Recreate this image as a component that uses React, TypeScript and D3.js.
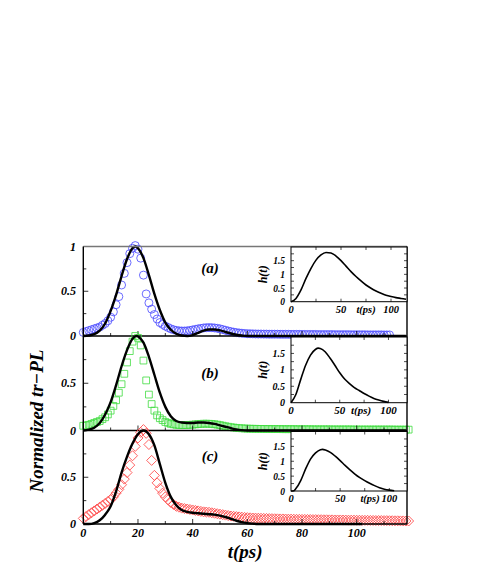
import React from "react";
import * as d3 from "d3";

// ---------- data ----------
const blueVals = [
  0.04,0.05,0.06,0.07,0.08,0.09,0.10,0.12,0.14,0.17,
  0.21,0.27,0.35,0.44,0.57,0.70,0.82,0.92,0.98,1.01,
  0.97,0.87,0.68,0.47,0.37,0.30,0.24,0.19,0.15,0.13,
  0.11,0.095,0.08,0.07,0.062,0.058,0.056,0.056,0.058,0.062,
  0.068,0.074,0.08,0.085,0.09,0.093,0.094,0.093,0.09,0.086,
  0.08,0.072,0.064,0.056,0.049,0.043,0.038,0.034,0.031,0.028,
  0.026,0.025,0.024,0.023,0.022,0.022,0.021,0.021,0.02,0.02,
  0.02,0.02,0.019,0.019,0.019,0.019,0.018,0.018,0.018,0.018,
  0.018,0.017,0.017,0.017,0.017,0.017,0.016,0.016,0.016,0.016,
  0.016,0.016,0.015,0.015,0.015,0.015,0.015,0.015,0.014,0.014,
  0.014,0.014,0.014,0.014,0.013,0.013,0.013,0.013,0.013,0.013,
  0.012,0.012,0.012,
];
const greenVals = [
  0.05,0.055,0.06,0.07,0.08,0.09,0.10,0.12,0.14,0.17,
  0.21,0.26,0.32,0.40,0.49,0.60,0.72,0.84,0.94,1.0,
  0.98,0.90,0.74,0.53,0.38,0.28,0.21,0.16,0.13,0.11,
  0.09,0.08,0.07,0.065,0.06,0.058,0.057,0.057,0.058,0.06,
  0.062,0.065,0.068,0.07,0.072,0.072,0.071,0.069,0.066,0.062,
  0.057,0.051,0.045,0.04,0.035,0.031,0.028,0.025,0.023,0.021,
  0.02,0.019,0.018,0.018,0.017,0.017,0.016,0.016,0.016,0.015,
  0.015,0.015,0.015,0.014,0.014,0.014,0.014,0.014,0.013,0.013,
  0.013,0.013,0.013,0.013,0.012,0.012,0.012,0.012,0.012,0.012,
  0.012,0.011,0.011,0.011,0.011,0.011,0.011,0.011,0.011,0.01,
  0.01,0.01,0.01,0.01,0.01,0.01,0.01,0.01,0.01,0.01,
  0.01,0.01,0.01,0.01,0.009,0.009,0.009,0.009,0.009,0.009,
];
const redVals = [
  0.06,0.08,0.10,0.12,0.14,0.16,0.18,0.20,0.22,0.24,
  0.26,0.29,0.33,0.37,0.42,0.48,0.55,0.63,0.73,0.83,
  0.92,0.98,1.01,0.97,0.85,0.68,0.52,0.44,0.38,0.33,
  0.29,0.26,0.23,0.21,0.19,0.18,0.17,0.165,0.16,0.155,
  0.15,0.145,0.14,0.135,0.13,0.128,0.125,0.12,0.115,0.11,
  0.105,0.10,0.095,0.09,0.085,0.082,0.079,0.076,0.073,0.07,
  0.068,0.066,0.064,0.063,0.062,0.061,0.06,0.059,0.058,0.057,
  0.056,0.055,0.054,0.054,0.053,0.052,0.052,0.051,0.05,0.05,
  0.049,0.049,0.048,0.048,0.047,0.047,0.046,0.046,0.045,0.045,
  0.044,0.044,0.043,0.043,0.043,0.042,0.042,0.041,0.041,0.041,
  0.04,0.04,0.039,0.039,0.039,0.038,0.038,0.037,0.037,0.037,
  0.036,0.036,0.035,0.035,0.034,0.034,0.033,0.033,0.032,0.032,
];

const fitA_t = [0,2,4,6,8,10,12,14,16,18,19,20,22,24,26,28,30,32,34,36,38,40,42,44,46,48,50,52,54,56,58,60,70,80,90,100,110,118];
const fitA_v = [0,0.005,0.02,0.06,0.14,0.28,0.46,0.67,0.86,0.98,1.0,0.98,0.87,0.68,0.47,0.29,0.15,0.07,0.025,0.005,0,0.01,0.035,0.06,0.072,0.072,0.062,0.045,0.028,0.014,0.005,0,0,0,0,0,0,0];
const fitB_t = [0,2,4,6,8,10,12,14,16,18,19.5,21,22,24,26,28,30,32,34,36,38,40,42,44,46,48,50,52,54,56,58,60,70,80,90,100,110,118];
const fitB_v = [0,0.01,0.03,0.08,0.17,0.30,0.48,0.68,0.85,0.97,1.0,0.97,0.93,0.78,0.59,0.40,0.25,0.15,0.10,0.085,0.08,0.08,0.085,0.085,0.08,0.07,0.055,0.04,0.025,0.012,0.004,0,0,0,0,0,0,0];
const fitC_t = [0,2,4,6,8,10,12,14,16,18,20,22,24,26,28,30,32,34,36,38,40,42,44,46,48,50,52,54,56,58,60,62,64,70,80,90,100,102];
const fitC_v = [0,0,0.01,0.04,0.10,0.19,0.35,0.55,0.72,0.86,0.96,1.0,0.96,0.84,0.64,0.44,0.29,0.2,0.15,0.13,0.12,0.115,0.11,0.105,0.1,0.09,0.075,0.055,0.035,0.02,0.01,0.004,0,0,0,0,0,0];

const hA_t = [0,5,10,15,20,25,30,35,40,45,50,55,60,65,70,75,80,85,90,95,100,105,110,115];
const hA_v = [0,0.12,0.43,0.85,1.22,1.52,1.71,1.80,1.78,1.67,1.50,1.30,1.10,0.92,0.76,0.61,0.49,0.39,0.31,0.24,0.19,0.15,0.12,0.09];
const hB_t = [0,5,10,15,20,25,28,30,35,40,45,50,55,60,65,70,75,80,85,90,95,100];
const hB_v = [0,0.25,0.71,1.14,1.45,1.62,1.66,1.65,1.55,1.36,1.14,0.91,0.72,0.58,0.46,0.37,0.28,0.20,0.13,0.08,0.04,0.01];
const hC_t = [0,3,5,10,15,20,25,30,32,35,40,45,50,55,60,65,70,75,80,85,90,95,100,105];
const hC_v = [0,0.01,0.08,0.36,0.75,1.08,1.28,1.39,1.40,1.38,1.30,1.17,1.02,0.86,0.71,0.57,0.45,0.35,0.26,0.18,0.11,0.06,0.03,0.01];

const panelLabels = ["(a)", "(b)", "(c)"];
const xTickLabels = [0, 20, 40, 60, 80, 100];
const insetTickLabels = [0, 50, 100];
const insetYTickLabels = ["0", "0.5", "1", "1.5"];

// ---------- layout ----------
const W = 491, H = 572;
const X0 = 83.3, X1 = 407;
const tops = [246.5, 336, 430.5];
const bottoms = [336, 430.5, 524];
const FONT = "'Liberation Serif', 'Times New Roman', serif";

const x = d3.scaleLinear().domain([0, 118.4]).range([X0, X1]);

const insets = [
  { top: 247, bottom: 301.7, xmax: 116, t: hA_t, v: hA_v, tpsX: 366, fs: 10.5 },
  { top: 337, bottom: 402.7, xmax: 119, t: hB_t, v: hB_v, tpsX: 361, fs: 11 },
  { top: 431.5, bottom: 491, xmax: 118, t: hC_t, v: hC_v, tpsX: 370, fs: 10.5 },
];
const insetL = 291, insetR = 407;

const series = [
  { vals: blueVals, color: "#4646ff", kind: "circle", ft: fitA_t, fv: fitA_v },
  { vals: greenVals, color: "#3fdc3f", kind: "square", ft: fitB_t, fv: fitB_v },
  { vals: redVals, color: "#ff4646", kind: "diamond", ft: fitC_t, fv: fitC_v },
];

const sq = d3.symbol().type(d3.symbolSquare).size(46)();
const dm = d3.symbol().type(d3.symbolSquare).size(50)();

function Panel({ i }: { i: number }) {
  const s = series[i];
  const y = d3.scaleLinear().domain([0, 1]).range([bottoms[i], tops[i]]);
  const line = d3
    .line<number>()
    .x((_, k) => x(s.ft[k]))
    .y((d) => y(d))
    .curve(d3.curveMonotoneX);
  const ts = d3.range(s.vals.length);
  return (
    <g>
      {ts.map((t) => {
        const cx = x(t), cy = y(s.vals[t]);
        if (s.kind === "circle")
          return <circle key={t} cx={cx} cy={cy} r={4} fill="none" stroke={s.color} strokeWidth={0.8} />;
        if (s.kind === "square")
          return <path key={t} d={sq!} transform={`translate(${cx},${cy})`} fill="none" stroke={s.color} strokeWidth={0.8} />;
        return <path key={t} d={dm!} transform={`translate(${cx},${cy}) rotate(45)`} fill="none" stroke={s.color} strokeWidth={0.8} />;
      })}
      <path d={line(s.fv)!} fill="none" stroke="#000" strokeWidth={2.4} />
      {[0.25, 0.5, 0.75].map((v) => (
        <line key={v} x1={X0} x2={X0 + (v === 0.5 ? 5 : 3)} y1={y(v)} y2={y(v)} stroke="#000" strokeWidth={0.8} />
      ))}
      {d3.range(10, 118, 10).map((t) => (
        <line key={t} x1={x(t)} x2={x(t)} y1={bottoms[i]} y2={bottoms[i] - (t % 20 === 0 ? 5 : 3)} stroke="#000" strokeWidth={0.8} />
      ))}
      {i === 0 && (
        <text x={76} y={tops[0] + 4} textAnchor="end" fontSize={12} fontWeight="bold" fontStyle="italic" fontFamily={FONT}>1</text>
      )}
      <text x={76} y={y(0.5) + 4} textAnchor="end" fontSize={12} fontWeight="bold" fontStyle="italic" fontFamily={FONT}>0.5</text>
      <text x={76} y={y(0) + 4} textAnchor="end" fontSize={12} fontWeight="bold" fontStyle="italic" fontFamily={FONT}>0</text>
      <text x={210} y={[273, 377.5, 461][i]} textAnchor="middle" fontSize={15} fontWeight="bold" fontStyle="italic" fontFamily={FONT}>
        {panelLabels[i]}
      </text>
      <line x1={X0} x2={X1} y1={bottoms[i]} y2={bottoms[i]} stroke="#000" strokeWidth={1.4} />
    </g>
  );
}

function Inset({ i }: { i: number }) {
  const b = insets[i];
  const ix = d3.scaleLinear().domain([0, b.xmax]).range([insetL, insetR]);
  const iy = d3.scaleLinear().domain([0, 2]).range([b.bottom, b.top]);
  const line = d3
    .line<number>()
    .x((_, k) => ix(b.t[k]))
    .y((d) => iy(d))
    .curve(d3.curveMonotoneX);
  const fs = b.fs;
  return (
    <g>
      <rect x={insetL} y={b.top} width={insetR - insetL} height={b.bottom - b.top} fill="#fff" stroke="#000" strokeWidth={1} />
      {d3.range(25, b.xmax, 25).map((t) => (
        <g key={t}>
          <line x1={ix(t)} x2={ix(t)} y1={b.bottom} y2={b.bottom - 3} stroke="#000" strokeWidth={0.7} />
          <line x1={ix(t)} x2={ix(t)} y1={b.top} y2={b.top + 3} stroke="#000" strokeWidth={0.7} />
        </g>
      ))}
      {d3.range(0.25, 2, 0.25).map((v) => (
        <g key={v}>
          <line x1={insetL} x2={insetL + 3} y1={iy(v)} y2={iy(v)} stroke="#000" strokeWidth={0.7} />
          <line x1={insetR} x2={insetR - 3} y1={iy(v)} y2={iy(v)} stroke="#000" strokeWidth={0.7} />
        </g>
      ))}
      <path d={line(b.v)!} fill="none" stroke="#000" strokeWidth={1.6} />
      {insetYTickLabels.map((l, k) => (
        <text key={l} x={285} y={iy(k * 0.5) + 3.5} textAnchor="end" fontSize={fs - 1} fontWeight="bold" fontStyle="italic" fontFamily={FONT}>{l}</text>
      ))}
      {insetTickLabels.map((t) => (
        <text key={t} x={ix(t)} y={b.bottom + 11} textAnchor="middle" fontSize={fs} fontWeight="bold" fontStyle="italic" fontFamily={FONT}>{t}</text>
      ))}
      <text x={b.tpsX} y={b.bottom + 11} textAnchor="middle" fontSize={fs} fontWeight="bold" fontStyle="italic" fontFamily={FONT}>t(ps)</text>
      <text transform={`translate(267,${(b.top + b.bottom) / 2}) rotate(-90)`} textAnchor="middle" fontSize={12} fontWeight="bold" fontStyle="italic" fontFamily={FONT}>h(t)</text>
    </g>
  );
}

export default function App() {
  return (
    <svg width={W} height={H} style={{ position: "absolute", left: 0, top: 0, background: "#fff" }}>
      {[0, 1, 2].map((i) => <Panel key={i} i={i} />)}
      <line x1={X0} x2={X1} y1={tops[0]} y2={tops[0]} stroke="#777" strokeWidth={1.4} />
      <line x1={X0} x2={X0} y1={tops[0]} y2={bottoms[2]} stroke="#000" strokeWidth={1.4} />
      <line x1={X1} x2={X1} y1={tops[0]} y2={bottoms[2]} stroke="#000" strokeWidth={1.4} />
      {[0, 1, 2].map((i) => <Inset key={i} i={i} />)}
      {xTickLabels.map((t) => (
        <text key={t} x={x(t)} y={537} textAnchor="middle" fontSize={12} fontWeight="bold" fontStyle="italic" fontFamily={FONT}>{t}</text>
      ))}
      <text x={(X0 + X1) / 2} y={558} textAnchor="middle" fontSize={19} fontWeight="bold" fontStyle="italic" fontFamily={FONT}>t(ps)</text>
      <text transform={`translate(43,421) rotate(-90)`} textAnchor="middle" fontSize={19} fontWeight="bold" fontStyle="italic" fontFamily={FONT}>Normalized tr−PL</text>
    </svg>
  );
}
